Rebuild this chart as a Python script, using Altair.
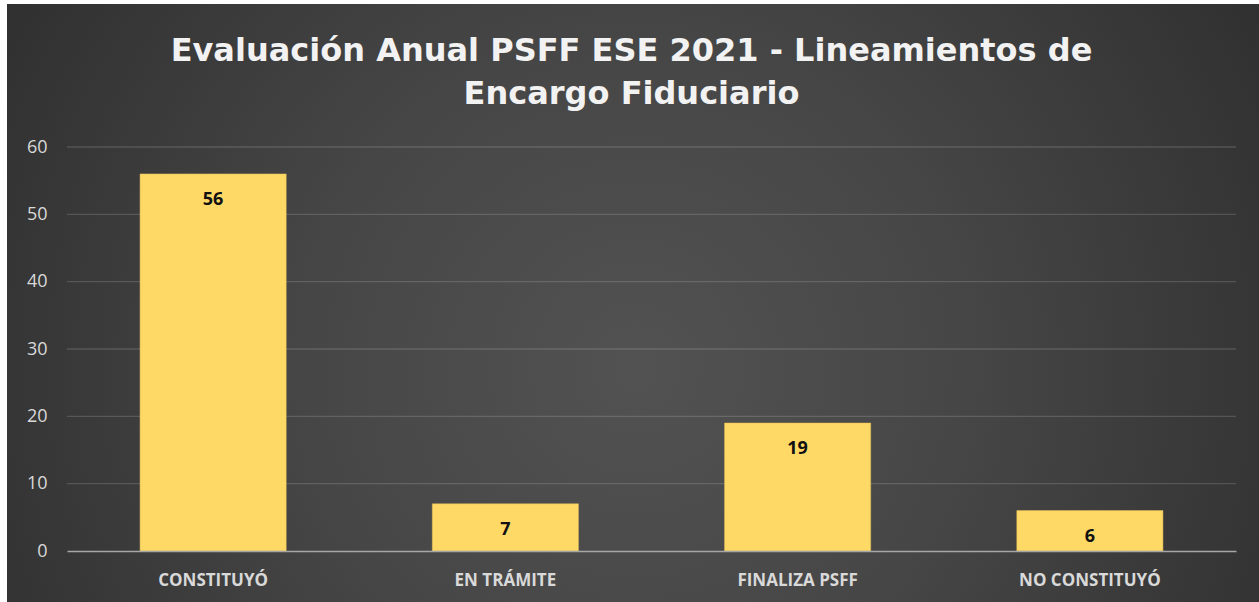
import altair as alt
import pandas as pd

categories = ["CONSTITUYÓ", "EN TRÁMITE", "FINALIZA PSFF", "NO CONSTITUYÓ"]
values = [56, 7, 19, 6]
grid_values = [0, 10, 20, 30, 40, 50, 60]
title_lines = ["Evaluación Anual PSFF ESE 2021 - Lineamientos de", "Encargo Fiduciario"]

W, H = 1169, 404
PL, PT, PR, PB = 67, 147, 23, 51

df = pd.DataFrame({"cat": categories, "val": values})
grid_df = pd.DataFrame({"g": grid_values[1:]})
bg_df = pd.DataFrame({"k": [0]})

FONT = "Open Sans"

xenc = alt.X("cat:N", sort=categories, title=None,
             scale=alt.Scale(paddingInner=0.5, paddingOuter=0.25),
             axis=alt.Axis(labelAngle=0, labelFont=FONT, labelFontSize=17,
                           labelFontWeight="bold", labelColor="#D9D9D9",
                           labelPadding=21, ticks=False, domain=True,
                           domainColor="#A6A6A6", domainWidth=1.5, grid=False,
                           zindex=1))
yscale = alt.Scale(domain=[0, 60], nice=False)

background = alt.Chart(bg_df).mark_rect(
    color=alt.Gradient(
        gradient="radial",
        stops=[alt.GradientStop(color="#525252", offset=0),
               alt.GradientStop(color="#464646", offset=0.35),
               alt.GradientStop(color="#242424", offset=1)],
        x1=0.5, y1=0.55, r1=0, x2=0.5, y2=0.55, r2=0.75),
).encode(
    x=alt.value(-PL + 7), x2=alt.value(W + PR + 5),
    y=alt.value(-PT + 4), y2=alt.value(H + PB + 5),
)

grid = alt.Chart(grid_df).mark_rule(color="#ffffff", opacity=0.15, strokeWidth=1.3).encode(
    y=alt.Y("g:Q", scale=yscale),
    x=alt.value(0), x2=alt.value(W),
)

bars = alt.Chart(df).mark_bar(color="#FFD966", stroke="#E8C25A", strokeWidth=0.5).encode(
    x=xenc,
    y=alt.Y("val:Q", scale=yscale, title=None,
            axis=alt.Axis(values=grid_values, labelFont=FONT, labelFontSize=18,
                          labelColor="#D9D9D9", labelPadding=20, ticks=False,
                          domain=False, grid=False, zindex=1)),
)

labels = alt.Chart(df).mark_text(
    font=FONT, fontSize=18, fontWeight="bold", color="#111111",
    baseline="middle", dy=26,
).encode(
    x=alt.X("cat:N", sort=categories),
    y=alt.Y("val:Q", scale=yscale),
    text=alt.Text("val:Q"),
)

chart = alt.layer(background, grid, bars, labels).properties(
    width=W, height=H,
    title=alt.TitleParams(
        text=title_lines, font="DejaVu Sans", fontSize=32, fontWeight="bold",
        color="#F2F2F2", lineHeight=43, anchor="middle", dx=-20, offset=-107,
    ),
    autosize=alt.AutoSizeParams(type="none"),
    padding={"left": PL, "top": PT, "right": PR, "bottom": PB},
).configure(background="#ffffff").configure_view(stroke=None)

chart.save("out.html", embed_options={"renderer": "svg", "actions": False})
